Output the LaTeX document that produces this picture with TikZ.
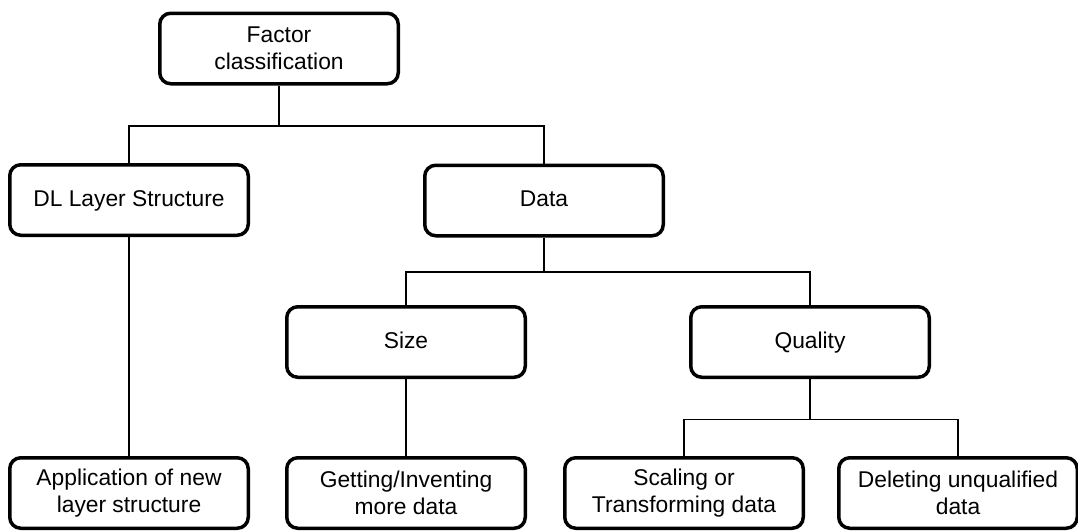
\documentclass[tikz,border=0pt]{standalone}
\usepackage{fontspec}
\setmainfont{Liberation Sans}
\begin{document}
\begin{tikzpicture}[x=1pt,y=-1pt,
  box/.style={draw=black, line width=3.5pt, rounded corners=11pt, fill=white,
    minimum width=238.5pt, minimum height=70.5pt, align=center, inner sep=2pt,
    font=\fontsize{22.8}{27}\selectfont},
  one/.style={text height=16.5pt, text depth=4.5pt},
  conn/.style={draw=black, line width=1.2pt}]
\useasboundingbox (0,0) rectangle (1078,530);
\coordinate (b1) at (279,126);
\coordinate (b2) at (544,272);
\coordinate (b3) at (810,419.5);
\node[box] (top) at (279,48.5) {Factor\\classification};
\node[box,one] (dl) at (129,200) {DL Layer Structure};
\node[box,one] (data) at (544,200.5) {Data};
\node[box,one] (size) at (406,342) {Size};
\node[box,one] (quality) at (810,342) {Quality};
\node[box] (app) at (129,493) {Application of new\\layer structure};
\node[box] (get) at (406,493) {Getting/Inventing\\more data};
\node[box] (scale) at (684,493) {Scaling or\\Transforming data};
\node[box] (del) at (958,493) {Deleting unqualified\\data};
\draw[conn] (top.south) -- (b1);
\draw[conn] (b1) -| (dl.north);
\draw[conn] (b1) -| (data.north);
\draw[conn] (dl.south) -- (app.north);
\draw[conn] (data.south) -- (b2);
\draw[conn] (b2) -| (size.north);
\draw[conn] (b2) -| (quality.north);
\draw[conn] (size.south) -- (get.north);
\draw[conn] (quality.south) -- (b3);
\draw[conn] (b3) -| (scale.north);
\draw[conn] (b3) -| (del.north);
\end{tikzpicture}
\end{document}
